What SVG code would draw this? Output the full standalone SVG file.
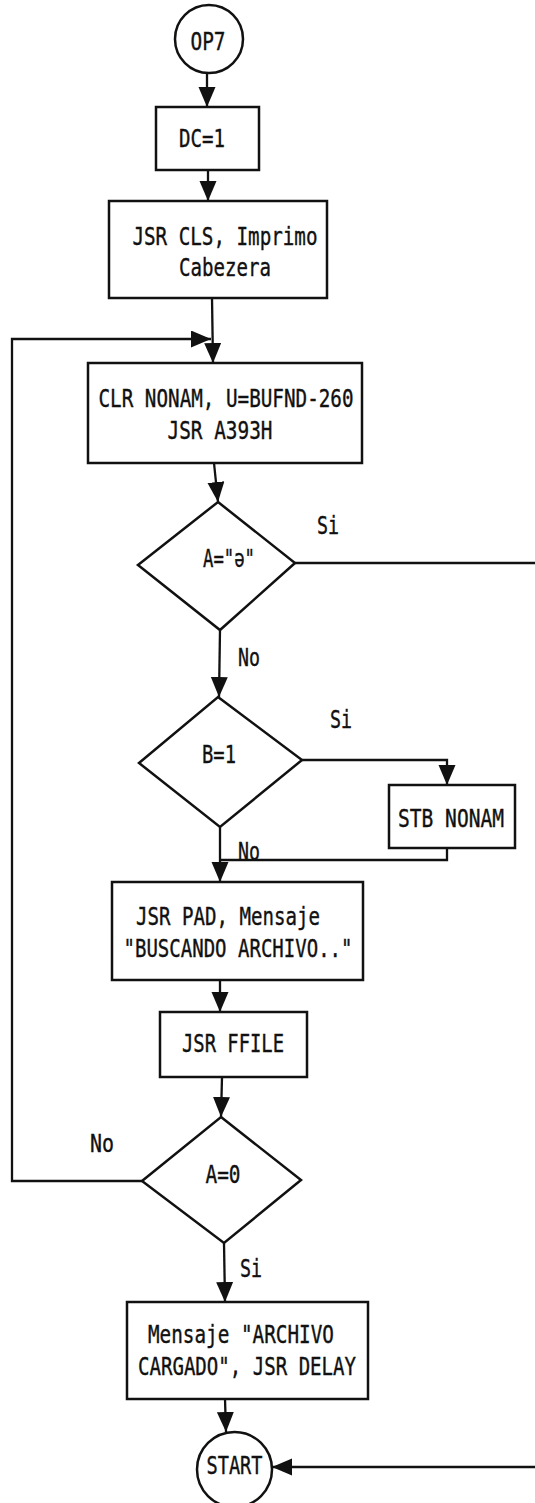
<svg xmlns="http://www.w3.org/2000/svg" width="535" height="1503" viewBox="0 0 535 1503">
<style>
.s{fill:#fff;stroke:#111;stroke-width:2.5}
.c{fill:none;stroke:#111;stroke-width:2.3}
.t{font-family:"DejaVu Sans Mono","Liberation Mono",monospace;font-size:25px;fill:#111;stroke:#111;stroke-width:0.4;text-anchor:middle}
</style>
<defs>
<marker id="ah" markerUnits="userSpaceOnUse" markerWidth="22" markerHeight="18" refX="20" refY="8.5" orient="auto">
<path d="M0,0 L20,8.5 L0,17 z" fill="#111"/>
</marker>
</defs>
<rect width="535" height="1503" fill="#fff"/>
<g id="connectors">
<path class="c" d="M207,73 L207,107" marker-end="url(#ah)"/>
<path class="c" d="M208,170 L208,201" marker-end="url(#ah)"/>
<path class="c" d="M212,298 L213,363" marker-end="url(#ah)"/>
<path class="c" d="M142,1181 L12,1181 L12,339 L211,339" marker-end="url(#ah)"/>
<path class="c" d="M214,463 L218,502" marker-end="url(#ah)"/>
<path class="c" d="M295,563 L535,563"/>
<path class="c" d="M220,630 L219,697" marker-end="url(#ah)"/>
<path class="c" d="M302,760 L447,760 L447,785" marker-end="url(#ah)"/>
<path class="c" d="M447,848 L447,860 L220,860"/>
<path class="c" d="M220,827 L220,882" marker-end="url(#ah)"/>
<path class="c" d="M220,980 L220,1012" marker-end="url(#ah)"/>
<path class="c" d="M222,1077 L221,1117" marker-end="url(#ah)"/>
<path class="c" d="M224,1243 L225,1302" marker-end="url(#ah)"/>
<path class="c" d="M225,1399 L226,1432" marker-end="url(#ah)"/>
<path class="c" d="M535,1467 L272,1467" marker-end="url(#ah)"/>
</g>
<g id="n_op7">
<circle class="s" cx="209" cy="39" r="34"/>
<text class="t" x="208" y="50" textLength="35" lengthAdjust="spacingAndGlyphs">OP7</text>
</g>
<g id="n_dc">
<rect class="s" x="156" y="107" width="103" height="63"/>
<text class="t" x="202" y="147" textLength="46" lengthAdjust="spacingAndGlyphs">DC=1</text>
</g>
<g id="n_cls">
<rect class="s" x="109" y="201" width="218" height="97"/>
<text class="t" x="225" y="245" textLength="185" lengthAdjust="spacingAndGlyphs">JSR CLS, Imprimo</text>
<text class="t" x="225" y="276" textLength="92" lengthAdjust="spacingAndGlyphs">Cabezera</text>
</g>
<g id="n_clr">
<rect class="s" x="88" y="363" width="274" height="100"/>
<text class="t" x="226" y="407" textLength="255" lengthAdjust="spacingAndGlyphs">CLR NONAM, U=BUFND-260</text>
<text class="t" x="220" y="439" textLength="105" lengthAdjust="spacingAndGlyphs">JSR A393H</text>
</g>
<g id="n_d1">
<polygon class="s" points="218,502 295,563 220,630 138,565"/>
<text class="t" x="229" y="567" textLength="52" lengthAdjust="spacingAndGlyphs">A="ə"</text>
</g>
<g id="n_d2">
<polygon class="s" points="218,697 302,760 220,827 139,763"/>
<text class="t" x="219" y="763" textLength="34" lengthAdjust="spacingAndGlyphs">B=1</text>
</g>
<g id="n_stb">
<rect class="s" x="389" y="785" width="126" height="63"/>
<text class="t" x="451" y="827" textLength="106" lengthAdjust="spacingAndGlyphs">STB NONAM</text>
</g>
<g id="n_pad">
<rect class="s" x="112" y="882" width="251" height="98"/>
<text class="t" x="228" y="925" textLength="184" lengthAdjust="spacingAndGlyphs">JSR PAD, Mensaje</text>
<text class="t" x="238" y="957" textLength="229" lengthAdjust="spacingAndGlyphs">"BUSCANDO ARCHIVO.."</text>
</g>
<g id="n_ffile">
<rect class="s" x="160" y="1012" width="147" height="65"/>
<text class="t" x="233" y="1052" textLength="102" lengthAdjust="spacingAndGlyphs">JSR FFILE</text>
</g>
<g id="n_d3">
<polygon class="s" points="221,1117 301,1180 224,1243 142,1181"/>
<text class="t" x="223" y="1183" textLength="35" lengthAdjust="spacingAndGlyphs">A=0</text>
</g>
<g id="n_cargado">
<rect class="s" x="127" y="1302" width="241" height="97"/>
<text class="t" x="241" y="1343" textLength="186" lengthAdjust="spacingAndGlyphs">Mensaje "ARCHIVO</text>
<text class="t" x="247" y="1375" textLength="218" lengthAdjust="spacingAndGlyphs">CARGADO", JSR DELAY</text>
</g>
<g id="n_start">
<circle class="s" cx="234.5" cy="1469.5" r="37.5"/>
<text class="t" x="234.5" y="1474" textLength="56" lengthAdjust="spacingAndGlyphs">START</text>
</g>
<g id="labels">
<text class="t" x="328" y="534" textLength="22" lengthAdjust="spacingAndGlyphs">Si</text>
<text class="t" x="249" y="666" textLength="22" lengthAdjust="spacingAndGlyphs">No</text>
<text class="t" x="341" y="728" textLength="22" lengthAdjust="spacingAndGlyphs">Si</text>
<text class="t" x="249" y="860" textLength="22" lengthAdjust="spacingAndGlyphs">No</text>
<text class="t" x="102" y="1152" textLength="24" lengthAdjust="spacingAndGlyphs">No</text>
<text class="t" x="251" y="1277" textLength="22" lengthAdjust="spacingAndGlyphs">Si</text>
</g>
</svg>
